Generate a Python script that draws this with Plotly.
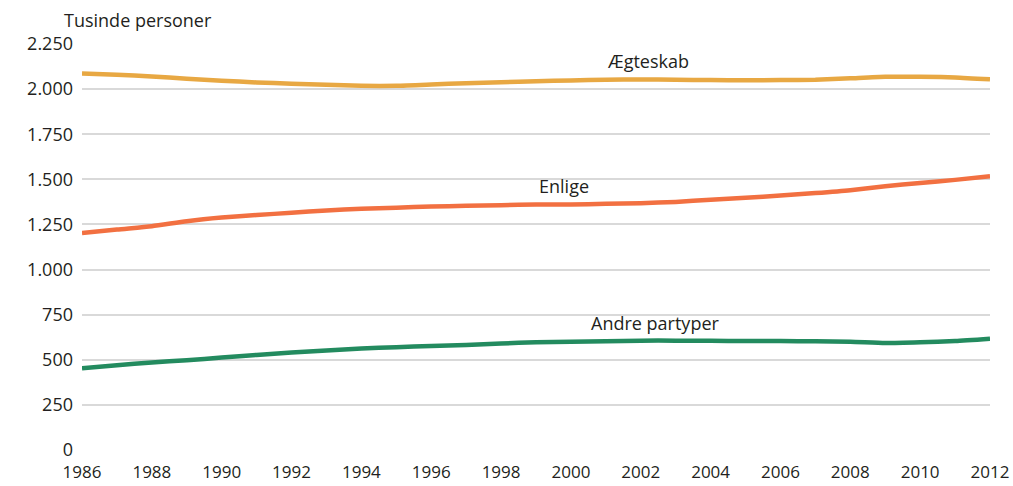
import plotly.graph_objects as go

years = list(range(1986, 2013))
aegteskab = [2087, 2080, 2070, 2058, 2047, 2037, 2030, 2024, 2018, 2018, 2025, 2033, 2038, 2044,
             2048, 2052, 2053, 2052, 2050, 2049, 2050, 2052, 2060, 2068, 2068, 2065, 2054]
enlige = [1202, 1222, 1240, 1268, 1288, 1302, 1315, 1327, 1337, 1343, 1349, 1353, 1357, 1360,
          1361, 1364, 1368, 1375, 1387, 1398, 1410, 1424, 1440, 1462, 1480, 1497, 1517]
andre = [453, 470, 485, 498, 512, 527, 540, 552, 562, 570, 576, 582, 590, 597,
         600, 603, 606, 606, 605, 604, 604, 602, 600, 593, 597, 604, 617]

series = [
    ("Ægteskab", aegteskab, "#E8A843", 2002.2, 2155),
    ("Enlige", enlige, "#F27041", 1999.8, 1465),
    ("Andre partyper", andre, "#238B5F", 2002.4, 705),
]
x_ticks = list(range(1986, 2013, 2))
y_ticks = list(range(0, 2251, 250))

font_family = "Open Sans"
text_color = "#231F20"

fig = go.Figure()
for name, vals, color, lx, ly in series:
    fig.add_trace(go.Scatter(x=years, y=vals, mode="lines", name=name,
                             line=dict(color=color, width=4.5, shape="spline", smoothing=0.6),
                             showlegend=False, hoverinfo="skip", cliponaxis=False))
    fig.add_annotation(x=lx, y=ly, text=name, showarrow=False,
                       font=dict(size=18, color=text_color, family=font_family),
                       xanchor="center", yanchor="middle")

fig.add_annotation(xref="paper", yref="paper", x=-0.022, y=1.025, text="Tusinde personer",
                   showarrow=False, xanchor="left", yanchor="bottom",
                   font=dict(size=18, color=text_color, family=font_family))

fig.update_layout(
    width=1013, height=486,
    margin=dict(l=82, r=23, t=44, b=36, autoexpand=False),
    plot_bgcolor="white", paper_bgcolor="white",
    separators=",.",
    font=dict(family=font_family, size=18, color=text_color),
)
fig.update_xaxes(range=[1986, 2012], tickvals=x_ticks, ticktext=[str(t) for t in x_ticks],
                 showgrid=False, zeroline=False, showline=False, ticks="",
                 automargin=False, ticklabelstandoff=10,
                 tickfont=dict(size=17, color=text_color))
fig.update_yaxes(range=[0, 2250], tickvals=y_ticks, tickformat=",d",
                 showgrid=True, gridcolor="#D9D9D9", gridwidth=2, zeroline=False,
                 showline=False, ticks="", ticklabelstandoff=8, automargin=False,
                 tickfont=dict(size=18, color=text_color))

# remove the default page margin so the figure fills the window exactly
page_js = "document.body.style.margin='0';document.body.style.overflow='hidden';"
fig.write_html("out.html", post_script=page_js, config={"displayModeBar": False})
